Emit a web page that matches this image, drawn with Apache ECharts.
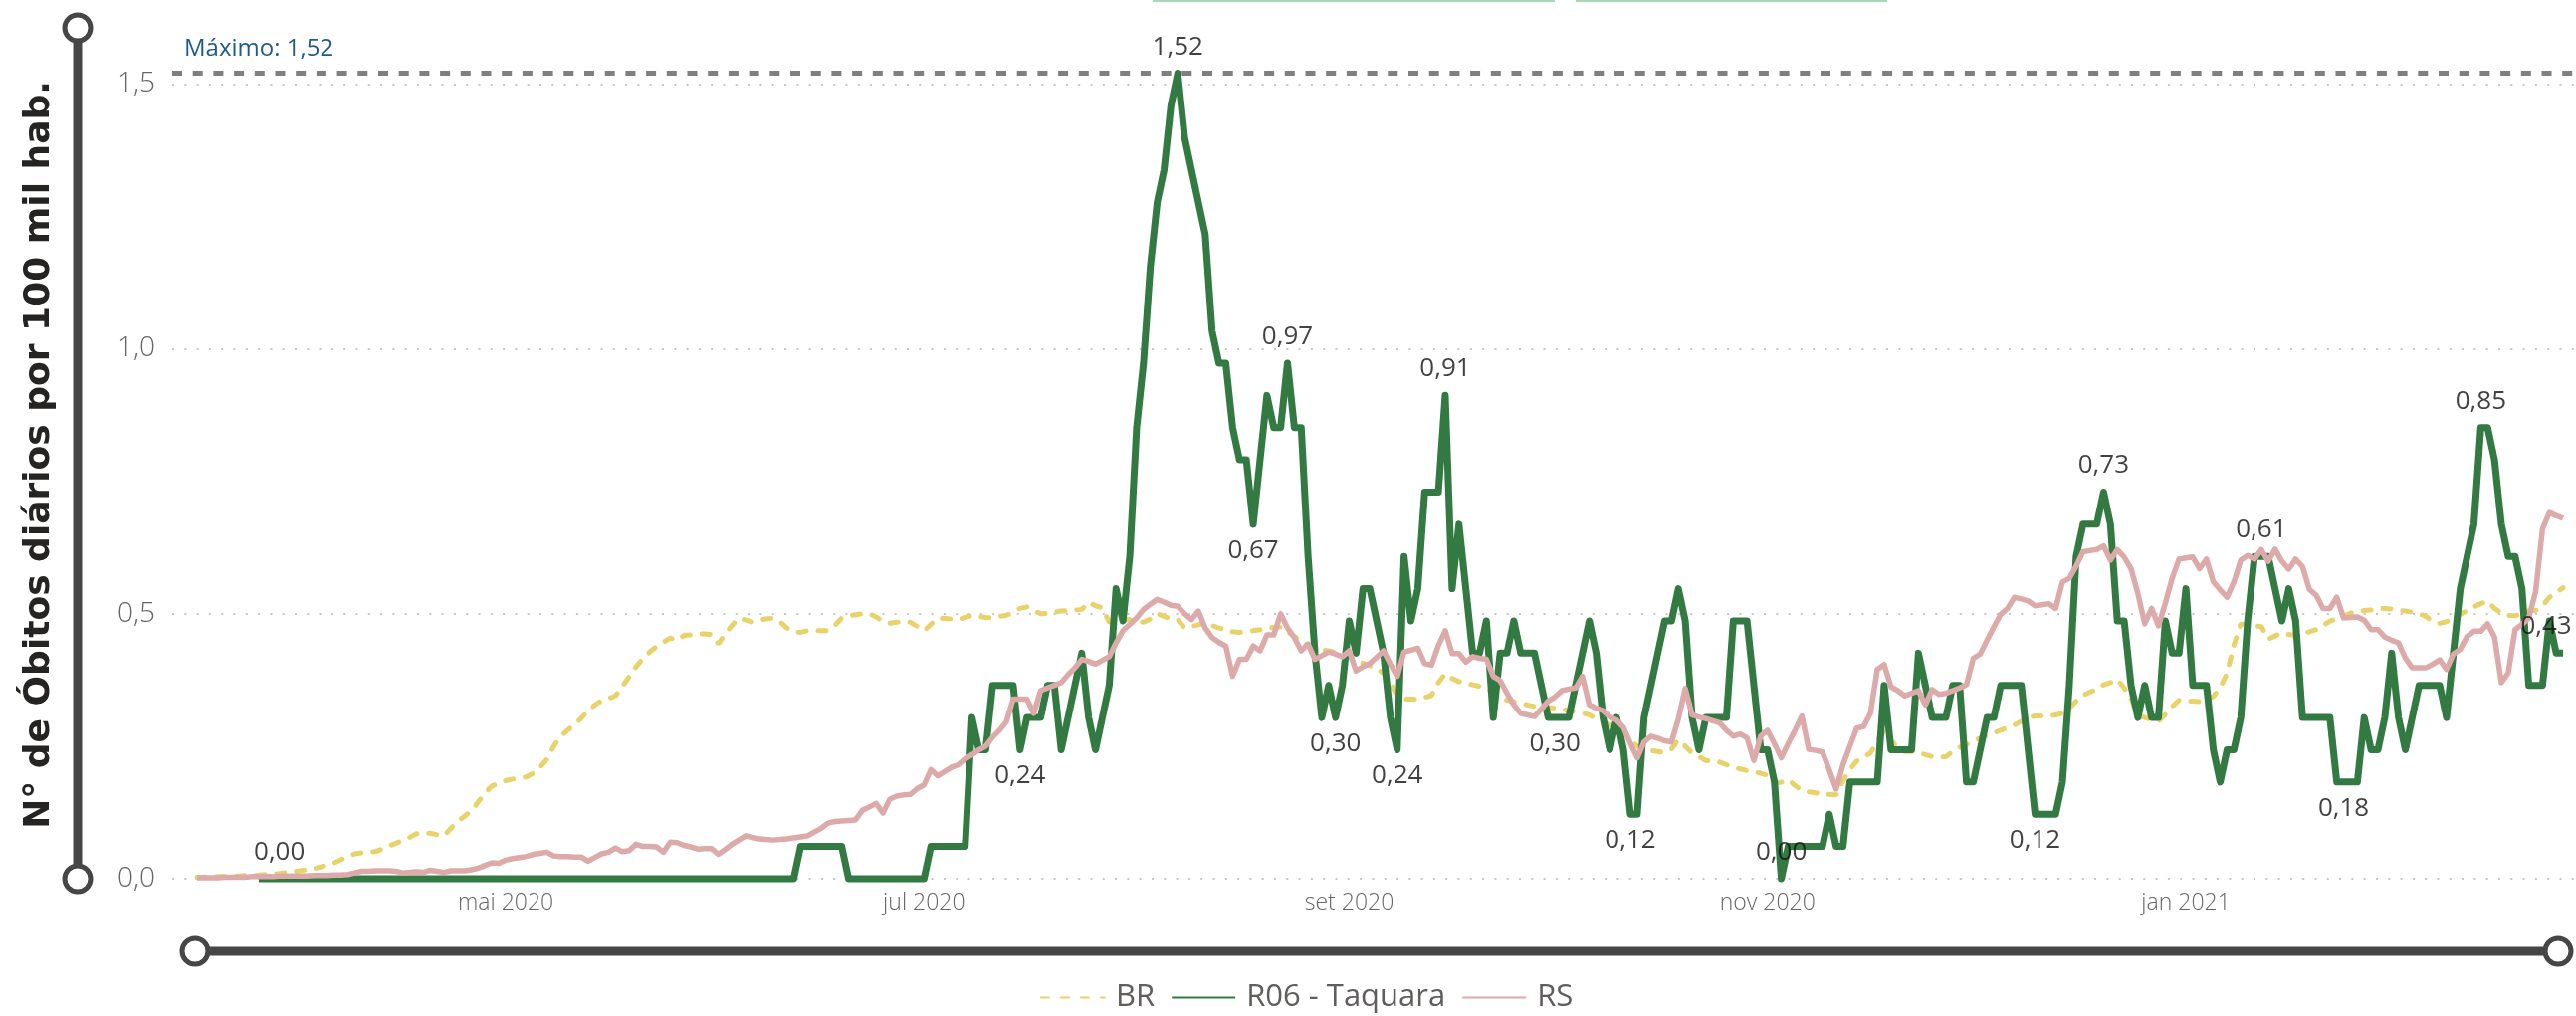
<!DOCTYPE html>
<html><head><meta charset="utf-8">
<script src="https://cdn.jsdelivr.net/npm/echarts@6/dist/echarts.min.js"></script>
<style>html,body{margin:0;padding:0;background:#fff}#c{width:2588px;height:1021px}</style>
</head><body><div id="c"></div>
<script>
// ---- data ----
const startDate = '2020-03-17';           // first day of the series (day index 0)
const tickDates = ['2020-05-01','2020-07-01','2020-09-01','2020-11-01','2021-01-01'];
const monthNames = ['jan','fev','mar','abr','mai','jun','jul','ago','set','out','nov','dez'];
const seriesNames = ['BR','R06 - Taquara','RS'];
const yTicks = [0, 0.5, 1.0, 1.5];

const brValues = [
0.003,0.003,0.004,0.004,0.004,0.005,0.005,0.006,0.006,0.007,
0.008,0.009,0.010,0.012,0.013,0.015,0.017,0.019,0.022,0.026,
0.030,0.036,0.042,0.047,0.049,0.050,0.051,0.056,0.062,0.067,
0.072,0.078,0.085,0.086,0.086,0.083,0.081,0.095,0.108,0.118,
0.128,0.145,0.162,0.175,0.180,0.185,0.188,0.190,0.192,0.199,
0.210,0.225,0.250,0.268,0.280,0.290,0.303,0.316,0.328,0.336,
0.340,0.345,0.363,0.381,0.400,0.415,0.428,0.438,0.446,0.454,
0.450,0.459,0.460,0.462,0.462,0.461,0.443,0.462,0.478,0.492,
0.488,0.484,0.488,0.490,0.492,0.485,0.473,0.466,0.465,0.468,
0.468,0.468,0.468,0.478,0.492,0.496,0.498,0.500,0.500,0.494,
0.486,0.482,0.484,0.484,0.484,0.476,0.468,0.480,0.492,0.491,
0.490,0.489,0.493,0.497,0.495,0.493,0.492,0.495,0.497,0.503,
0.510,0.513,0.506,0.500,0.501,0.503,0.505,0.506,0.507,0.508,
0.522,0.515,0.511,0.484,0.486,0.488,0.489,0.486,0.484,0.490,
0.500,0.495,0.490,0.489,0.473,0.476,0.479,0.482,0.478,0.473,
0.470,0.466,0.465,0.466,0.468,0.470,0.473,0.474,0.475,0.466,
0.457,0.449,0.440,0.435,0.432,0.430,0.427,0.423,0.418,0.413,
0.407,0.402,0.396,0.388,0.370,0.345,0.339,0.339,0.339,0.342,
0.346,0.370,0.387,0.378,0.372,0.369,0.366,0.363,0.360,0.352,
0.340,0.337,0.334,0.331,0.328,0.325,0.324,0.323,0.322,0.320,
0.317,0.315,0.313,0.309,0.302,0.296,0.290,0.284,0.276,0.260,
0.250,0.242,0.242,0.240,0.238,0.245,0.262,0.250,0.237,0.230,
0.223,0.221,0.220,0.215,0.210,0.207,0.204,0.202,0.199,0.195,
0.180,0.182,0.187,0.176,0.166,0.164,0.162,0.160,0.159,0.158,
0.185,0.206,0.222,0.230,0.237,0.258,0.280,0.262,0.245,0.240,
0.240,0.238,0.234,0.230,0.230,0.230,0.240,0.248,0.253,0.260,
0.265,0.271,0.275,0.280,0.285,0.290,0.297,0.304,0.307,0.307,
0.307,0.309,0.312,0.322,0.335,0.346,0.352,0.358,0.366,0.370,
0.376,0.360,0.340,0.309,0.304,0.300,0.297,0.310,0.325,0.337,
0.336,0.335,0.334,0.339,0.344,0.360,0.388,0.441,0.481,0.479,
0.477,0.476,0.452,0.458,0.464,0.461,0.459,0.462,0.466,0.470,
0.478,0.486,0.491,0.496,0.501,0.504,0.506,0.507,0.509,0.510,
0.509,0.507,0.505,0.503,0.500,0.495,0.485,0.482,0.485,0.492,
0.499,0.506,0.513,0.519,0.524,0.510,0.502,0.497,0.496,0.501,
0.506,0.506,0.515,0.531,0.540,0.549
];

const taquaraValues = [
null,null,null,null,null,null,null,null,null,0,
0,0,0,0,0,0,0,0,0,0,
0,0,0,0,0,0,0,0,0,0,
0,0,0,0,0,0,0,0,0,0,
0,0,0,0,0,0,0,0,0,0,
0,0,0,0,0,0,0,0,0,0,
0,0,0,0,0,0,0,0,0,0,
0,0,0,0,0,0,0,0,0,0,
0,0,0,0,0,0,0,0,0.0608,0.0608,
0.0608,0.0608,0.0608,0.0608,0.0608,0,0,0,0,0,
0,0,0,0,0,0,0,0.0608,0.0608,0.0608,
0.0608,0.0608,0.0608,0.304,0.2432,0.2432,0.3648,0.3648,0.3648,0.3648,
0.2432,0.304,0.304,0.304,0.3648,0.3648,0.2432,0.304,0.3648,0.4256,
0.304,0.2432,0.304,0.3648,0.5472,0.4864,0.608,0.8512,0.9728,1.1552,
1.2768,1.3376,1.4592,1.52,1.3984,1.3376,1.2768,1.216,1.0336,0.9728,
0.9728,0.8512,0.7904,0.7904,0.6688,0.7904,0.912,0.8512,0.8512,0.9728,
0.8512,0.8512,0.608,0.4256,0.304,0.3648,0.304,0.3648,0.4864,0.4256,
0.5472,0.5472,0.4864,0.4256,0.304,0.2432,0.608,0.4864,0.5472,0.7296,
0.7296,0.7296,0.912,0.5472,0.6688,0.5472,0.4256,0.4256,0.4864,0.304,
0.4256,0.4256,0.4864,0.4256,0.4256,0.4256,0.3648,0.304,0.304,0.304,
0.304,0.3648,0.4256,0.4864,0.4256,0.304,0.2432,0.304,0.2432,0.1216,
0.1216,0.304,0.3648,0.4256,0.4864,0.4864,0.5472,0.4864,0.304,0.2432,
0.304,0.304,0.304,0.304,0.4864,0.4864,0.4864,0.3648,0.2432,0.2432,
0.1824,0,0.0608,0.0608,0.0608,0.0608,0.0608,0.0608,0.1216,0.0608,
0.0608,0.1824,0.1824,0.1824,0.1824,0.1824,0.3648,0.2432,0.2432,0.2432,
0.2432,0.4256,0.3648,0.304,0.304,0.304,0.3648,0.3648,0.1824,0.1824,
0.2432,0.304,0.304,0.3648,0.3648,0.3648,0.3648,0.2432,0.1216,0.1216,
0.1216,0.1216,0.1824,0.3648,0.608,0.6688,0.6688,0.6688,0.7296,0.6688,
0.4864,0.4864,0.3648,0.304,0.3648,0.304,0.304,0.4864,0.4256,0.4256,
0.5472,0.3648,0.3648,0.3648,0.2432,0.1824,0.2432,0.2432,0.304,0.4864,
0.608,0.608,0.608,0.5472,0.4864,0.5472,0.4864,0.304,0.304,0.304,
0.304,0.304,0.1824,0.1824,0.1824,0.1824,0.304,0.2432,0.2432,0.304,
0.4256,0.304,0.2432,0.304,0.3648,0.3648,0.3648,0.3648,0.304,0.4256,
0.5472,0.608,0.6688,0.8512,0.8512,0.7904,0.6688,0.608,0.608,0.5472,
0.3648,0.3648,0.3648,0.4864,0.4256,0.4256
];

const rsValues = [
0.002,0.002,0.002,0.002,0.003,0.003,0.003,0.003,0.004,0.004,
0.004,0.004,0.005,0.005,0.005,0.005,0.005,0.006,0.006,0.006,
0.007,0.007,0.008,0.011,0.014,0.014,0.015,0.015,0.015,0.014,
0.011,0.012,0.013,0.012,0.016,0.014,0.012,0.015,0.015,0.015,
0.017,0.020,0.025,0.030,0.029,0.035,0.038,0.040,0.042,0.046,
0.048,0.050,0.043,0.042,0.042,0.041,0.041,0.033,0.040,0.047,
0.050,0.058,0.051,0.053,0.065,0.061,0.061,0.060,0.050,0.069,
0.068,0.063,0.060,0.056,0.057,0.057,0.046,0.055,0.065,0.073,
0.081,0.078,0.075,0.074,0.073,0.074,0.075,0.077,0.079,0.081,
0.088,0.095,0.105,0.108,0.109,0.110,0.111,0.129,0.135,0.142,
0.124,0.150,0.156,0.158,0.159,0.170,0.177,0.206,0.194,0.202,
0.210,0.215,0.226,0.234,0.243,0.250,0.267,0.280,0.296,0.339,
0.339,0.339,0.312,0.355,0.360,0.365,0.370,0.385,0.398,0.414,
0.410,0.405,0.412,0.419,0.445,0.468,0.480,0.492,0.508,0.518,
0.527,0.522,0.516,0.514,0.500,0.489,0.505,0.473,0.455,0.446,
0.439,0.382,0.414,0.414,0.439,0.430,0.460,0.460,0.500,0.473,
0.455,0.430,0.443,0.414,0.421,0.428,0.424,0.419,0.430,0.392,
0.400,0.406,0.418,0.430,0.405,0.382,0.428,0.431,0.435,0.406,
0.403,0.440,0.468,0.425,0.425,0.409,0.419,0.416,0.414,0.382,
0.374,0.350,0.328,0.312,0.309,0.306,0.320,0.335,0.343,0.355,
0.358,0.360,0.382,0.328,0.322,0.317,0.305,0.299,0.285,0.255,
0.228,0.258,0.269,0.265,0.260,0.258,0.302,0.359,0.309,0.305,
0.302,0.298,0.294,0.280,0.269,0.273,0.266,0.223,0.269,0.280,
0.255,0.228,0.255,0.280,0.307,0.244,0.242,0.239,0.205,0.169,
0.215,0.250,0.284,0.287,0.312,0.395,0.404,0.362,0.355,0.345,
0.350,0.355,0.328,0.357,0.348,0.350,0.355,0.360,0.366,0.416,
0.424,0.450,0.475,0.499,0.510,0.531,0.528,0.524,0.515,0.517,
0.519,0.510,0.560,0.567,0.590,0.617,0.619,0.621,0.628,0.601,
0.621,0.607,0.585,0.538,0.481,0.510,0.477,0.520,0.567,0.603,
0.605,0.607,0.585,0.603,0.560,0.545,0.531,0.560,0.601,0.610,
0.603,0.621,0.599,0.622,0.599,0.584,0.603,0.589,0.546,0.535,
0.510,0.510,0.531,0.492,0.493,0.494,0.488,0.470,0.470,0.456,
0.450,0.445,0.416,0.398,0.398,0.398,0.405,0.413,0.395,0.424,
0.433,0.457,0.467,0.467,0.481,0.456,0.370,0.388,0.470,0.480,
0.492,0.542,0.660,0.691,0.685,0.680
];

// day indices of the R06 data labels (local highs / lows) and which side they sit on
const labelPoints = [
[12,'top'],[120,'bottom'],[143,'top'],[154,'bottom'],[159,'top'],[166,'bottom'],
[175,'bottom'],[182,'top'],[198,'bottom'],[209,'bottom'],[231,'top'],[268,'bottom'],
[278,'top'],[301,'top'],[313,'bottom'],[333,'top'],[345,'top']
];

// ---- helpers ----
const DAY = 86400000;
const t0 = Date.parse(startDate + 'T00:00:00Z');
const dayIndex = s => Math.round((Date.parse(s + 'T00:00:00Z') - t0) / DAY);
const tickDays = tickDates.map(dayIndex);
const fmtComma = (v, d) => v.toFixed(d).replace('.', ',');
const monthLabel = v => { const d = new Date(t0 + v * DAY); return monthNames[d.getUTCMonth()] + ' ' + d.getUTCFullYear(); };

const lastIdx = taquaraValues.length - 1;
const toPairs = arr => arr.map((v, i) => [i, v]);
const labelData = labelPoints.map(([i, side]) => ({ value: [i, taquaraValues[i]], label: { position: side } }));
const maxVal = Math.max(...taquaraValues.filter(v => v != null));

const chrome = '#464646';
const chart = echarts.init(document.getElementById('c'), null, { renderer: 'canvas' });
chart.setOption({
  animation: false,
  backgroundColor: '#ffffff',
  grid: { left: 173, right: 0, top: 31, bottom: 138, containLabel: false, outerBoundsMode: 'none' },
  legend: {
    data: seriesNames, left: 1040, top: 982, itemWidth: 64, itemHeight: 14, itemGap: 16,
    itemStyle: { opacity: 0, borderWidth: 0 },
    textStyle: { fontFamily: 'Open Sans', fontSize: 31, color: '#605E5C', padding: [0, 0, 0, 6] }
  },
  xAxis: {
    type: 'value', min: -3.628, max: 346.88,
    axisLine: { show: false }, axisTick: { show: false }, splitLine: { show: false },
    axisLabel: { customValues: tickDays, formatter: v => monthLabel(v), margin: 13,
      fontFamily: 'Open Sans', fontWeight: 300, fontSize: 23, color: '#666666' }
  },
  yAxis: {
    type: 'value', min: 0, max: 1.6, interval: 0.5,
    name: 'N° de Óbitos diários por 100 mil hab.', nameLocation: 'middle', nameGap: 115,
    nameTextStyle: { fontFamily: 'DejaVu Sans', fontWeight: 'bold', fontSize: 36, color: '#252423' },
    axisLine: { show: false },
    axisTick: { show: false, customValues: yTicks },
    axisLabel: { customValues: yTicks, formatter: v => fmtComma(v, 1), margin: 17,
      fontFamily: 'Open Sans', fontWeight: 300, fontSize: 28, color: '#666666' },
    splitLine: { show: true, customValues: yTicks, lineStyle: { color: '#C8C6C4', width: 2, type: [2, 10.3] } }
  },
  series: [
    { name: seriesNames[0], type: 'line', data: toPairs(brValues), symbol: 'none', clip: false,
      lineStyle: { color: '#E8D26A', width: 5, type: [8, 12], cap: 'round' }, itemStyle: { color: '#E8D26A' } },
    { name: seriesNames[1], type: 'line', data: toPairs(taquaraValues), symbol: 'none', clip: false,
      lineStyle: { color: '#327A42', width: 7, join: 'round' }, itemStyle: { color: '#327A42' },
      markLine: { silent: true, symbol: ['none', 'none'], animation: false,
        lineStyle: { color: '#7F7F7F', width: 5, type: [10, 10.7], cap: 'butt' },
        label: { show: true, position: 'insideStartTop', distance: 12, formatter: 'Máximo: ' + fmtComma(maxVal, 2),
          fontFamily: 'Open Sans', fontSize: 24, color: '#1F5C8A' },
        emphasis: { disabled: true },
        data: [{ yAxis: maxVal }] } },
    { name: seriesNames[2], type: 'line', data: toPairs(rsValues), symbol: 'none', clip: false,
      lineStyle: { color: '#DDAAAA', width: 5.5, join: 'round' }, itemStyle: { color: '#DDAAAA' } },
    { name: 'rótulos', type: 'scatter', data: labelData, symbolSize: 1, silent: true, z: 5,
      itemStyle: { color: 'rgba(0,0,0,0)' },
      label: { show: true, distance: 13, formatter: p => fmtComma(p.value[1], 2),
        fontFamily: 'Open Sans', fontSize: 26, color: '#111111' },
      labelLayout: p => (labelPoints[p.dataIndex][0] === lastIdx ? { dx: -17, hideOverlap: false } : { hideOverlap: false }) }
  ],
  graphic: [
    { type: 'rect', shape: { x: 1158, y: 0, width: 404, height: 2 }, style: { fill: '#A9D8B8' }, silent: true },
    { type: 'rect', shape: { x: 1583, y: 0, width: 313, height: 2 }, style: { fill: '#A9D8B8' }, silent: true },
    { type: 'line', shape: { x1: 78, y1: 28, x2: 78, y2: 883 }, style: { stroke: chrome, lineWidth: 9 }, silent: true, z: 50 },
    { type: 'line', shape: { x1: 196, y1: 956, x2: 2570, y2: 956 }, style: { stroke: chrome, lineWidth: 9 }, silent: true, z: 50 },
    { type: 'circle', shape: { cx: 78, cy: 28, r: 13 }, style: { fill: '#fff', stroke: chrome, lineWidth: 5 }, silent: true, z: 51 },
    { type: 'circle', shape: { cx: 78, cy: 883, r: 13 }, style: { fill: '#fff', stroke: chrome, lineWidth: 5 }, silent: true, z: 51 },
    { type: 'circle', shape: { cx: 196, cy: 956, r: 13 }, style: { fill: '#fff', stroke: chrome, lineWidth: 5 }, silent: true, z: 51 },
    { type: 'circle', shape: { cx: 2570, cy: 956, r: 13 }, style: { fill: '#fff', stroke: chrome, lineWidth: 5 }, silent: true, z: 51 }
  ]
});
</script>
</body></html>
